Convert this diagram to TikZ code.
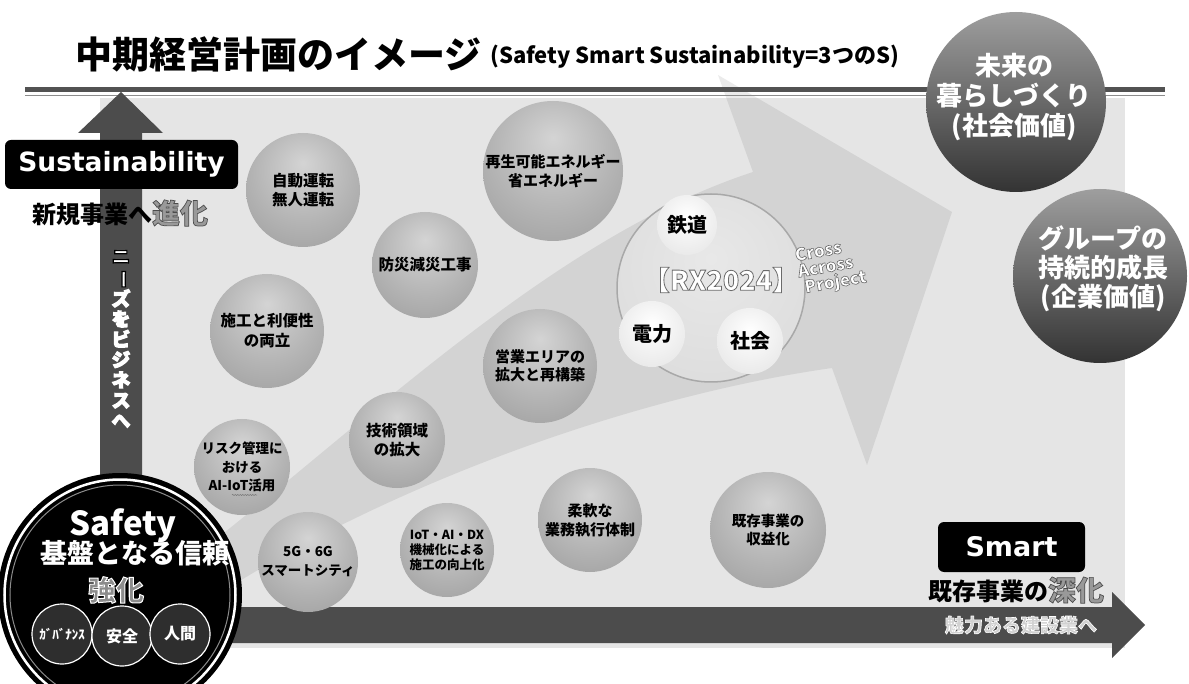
\documentclass[tikz,border=0pt]{standalone}
\usepackage{fontspec}
\setmainfont{Noto Sans CJK JP}
\newfontfamily\dejavu{DejaVu Sans}
\usetikzlibrary{decorations.pathmorphing}
\definecolor{bgray}{HTML}{E5E5E5}
\definecolor{arrowgray}{HTML}{4C4C4C}
\definecolor{sphA}{HTML}{D4D4D4}
\definecolor{sphB}{HTML}{B4B4B4}
\definecolor{sphC}{HTML}{919191}
\definecolor{sphD}{HTML}{787878}
\pgfdeclareradialshading{sph}{\pgfpoint{0bp}{12bp}}{color(0bp)=(sphA); color(22bp)=(sphB); color(48bp)=(sphC); color(62bp)=(sphD)}
\pgfdeclareradialshading{wsph}{\pgfpoint{0bp}{8bp}}{color(0bp)=(white); color(28bp)=(black!8); color(50bp)=(black!24); color(60bp)=(black!30)}
\pgfdeclareradialshading{rxsh}{\pgfpoint{0bp}{8bp}}{color(0bp)=(black!9); color(36bp)=(black!14); color(44bp)=(black!24); color(50bp)=(black!31); color(62bp)=(black!33)}
\newcommand\fs[2]{\fontsize{#1}{#2}\selectfont}
\newcommand\ol[3]{\special{pdf:literal direct #2 RG #1 w 2 Tr}#3\special{pdf:literal direct 0 Tr}}
\tikzset{
  ball/.style={circle, shading=sph, minimum size=#1, inner sep=0pt, align=center, text=black},
  wball/.style={circle, shading=wsph, minimum size=#1, inner sep=0pt, align=center, text=black},
  darkball/.style={circle, top color=black!38, bottom color=black!80, minimum size=#1, inner sep=0pt},
  blackbox/.style={rounded corners=6pt, fill=black, text=white, inner sep=0pt},
  small/.style={circle, fill=black!82, draw=white, line width=1.2pt, minimum size=#1, inner sep=0pt, text=white},
  lbl/.style={inner sep=0pt, align=center}
}
\begin{document}
\begin{tikzpicture}[x=1pt,y=-1pt]
\useasboundingbox (0,0) rectangle (1189,684);
\fill[white] (0,0) rectangle (1189,684);
\fill[bgray] (100,98) rectangle (1125,648);
% big translucent arrow
\fill[black, opacity=0.08] (205,548) .. controls (380,410) and (560,235) .. (753,172) -- (718,75) -- (952,212) -- (867,465) -- (832,368) .. controls (640,395) and (400,480) .. (225,590) -- cycle;
% double title line
\draw[line width=5pt, black!68] (25,89.5) -- (1165,89.5);
\draw[line width=1.5pt, black!45] (25,95.5) -- (1165,95.5);
% axes arrows
\fill[arrowgray] (100,607) -- (100,133) -- (78,133) -- (121,92) -- (163,133) -- (142,133) -- (142,607) -- cycle;
\fill[arrowgray] (100,607) -- (1112,607) -- (1112,592) -- (1145,625) -- (1112,658) -- (1112,643) -- (100,643) -- cycle;
% title
\node[lbl, anchor=west] (title) at (75,54) {\bfseries\fs{37}{37}中期経営計画のイメージ};
\node[lbl, anchor=west] (subtitle) at (490,57) {\bfseries\fs{22}{22}(Safety Smart Sustainability=3つのS)};
% Sustainability
\node[blackbox, minimum width=233pt, minimum height=49pt] (sus) at (121.5,164.5) {\dejavu\bfseries\fs{26.5}{26.5}Sustainability};
\node[lbl] (shinka) at (120,213) {\bfseries\fs{24}{24}新規事業へ{\fs{28}{28}\color{black!40}\ol{0.7}{0.3 0.3 0.3}{進化}}};
\node[lbl, text=white, font=\bfseries\fs{18.5}{20.3}] (needs) at (121,339) {\ol{1.2}{0 0 0}{ニ\\\rotatebox[origin=c]{-90}{ー}\\ズ\\を\\ビ\\ジ\\ネ\\ス\\へ}};
% spheres
\node[ball=114pt, font=\bfseries\fs{15.5}{19}] (b1) at (303,190) {自動運転\\無人運転};
\node[ball=140pt, font=\bfseries\fs{15}{19}] (b2) at (553,171) {再生可能エネルギー\\省エネルギー};
\node[ball=106pt, font=\bfseries\fs{15.5}{19}] (b3) at (425,265) {防災減災工事};
\node[ball=114pt, font=\bfseries\fs{15.5}{20}] (b4) at (267,331) {施工と利便性\\の両立};
\node[ball=114pt, font=\bfseries\fs{15}{18.5}] (b5) at (540,366) {営業エリアの\\拡大と再構築};
\node[ball=96pt, font=\bfseries\fs{15.5}{18.5}] (b6) at (397,440) {技術領域\\の拡大};
\node[ball=96pt, font=\bfseries\fs{13.5}{18.5}] (b7) at (242,467) {リスク管理に\\おける\\AI-IoT活用};
\draw[black!55, line width=0.5pt, decorate, decoration={snake, amplitude=0.6pt, segment length=2.5pt}] (232,495) -- (257,495);
\node[ball=100pt, font=\bfseries\fs{13.5}{19}] (b8) at (308,562) {5G・6G\\スマートシティ};
\node[ball=94pt, font=\bfseries\fs{12.5}{15}] (b9) at (447,550) {IoT・AI・DX\\機械化による\\施工の向上化};
\node[ball=104pt, font=\bfseries\fs{15}{19}] (b10) at (590,520) {柔軟な\\業務執行体制};
\node[ball=116pt, font=\bfseries\fs{14.5}{18.5}] (b11) at (768,530) {既存事業の\\収益化};
% RX2024 group
\node[circle, shading=rxsh, draw=black!34, line width=1.5pt, minimum size=188pt] (rx) at (711,288) {};
\node[wball=60pt, font=\bfseries\fs{20}{20}] (tetsudo) at (687,225) {鉄道};
\node[wball=66pt, font=\bfseries\fs{20}{20}] (denryoku) at (652,334) {電力};
\node[wball=66pt, font=\bfseries\fs{20}{20}] (shakai) at (750,341) {社会};
\node[lbl, text=white] (rxt) at (721,280) {\bfseries\fs{27}{27}\ol{0.8}{0.42 0.42 0.42}{【RX2024】}};
\node[lbl, anchor=west, align=left, rotate=10, text=white, font=\bfseries\fs{17}{16.5}] (cap) at (798,273) {\ol{0.6}{0.42 0.42 0.42}{Cross\\Across\\\ Project}};
% value circles
\node[darkball=180pt] (mirai) at (1016,102) {};
\node[lbl, text=white, font=\bfseries\fs{26}{30}] (miraitext) at (1014,97) {未来の\\暮らしづくり\\(社会価値)};
\node[darkball=174pt] (group) at (1100,276) {};
\node[lbl, text=white, font=\bfseries\fs{26}{29}] (grouptext) at (1103,269) {グループの\\持続的成長\\(企業価値)};
% Smart
\node[blackbox, minimum width=147pt, minimum height=50pt] (smart) at (1011.5,547) {\dejavu\bfseries\fs{27}{27}Smart};
\node[lbl] (shinka2) at (1016,590) {\bfseries\fs{24}{24}既存事業の{\fs{28}{28}\color{black!40}\ol{0.7}{0.3 0.3 0.3}{深化}}};
\node[lbl, text=black!18] (miryoku) at (1021,625) {\bfseries\fs{19}{19}\ol{0.6}{1 1 1}{魅力ある建設業へ}};
% Safety circle
\fill[black] (120,595) circle (122);
\draw[white, line width=2.5pt] (120,595) circle (115.5);
\draw[black!45, line width=1pt] (120,595) circle (110);
\node[circle, fill=black, minimum size=216pt, inner sep=0pt] (safety) at (120,595) {};
\node[lbl, text=white] (safetyt) at (123,526) {\bfseries\fs{33}{33}Safety};
\node[lbl, text=white] (kiban) at (135,553) {\bfseries\fs{27}{27}基盤となる信頼};
\node[lbl, text=black!45] (kyoka) at (116,590) {\bfseries\fs{28}{28}\ol{1}{1 1 1}{強化}};
\node[small=60pt] (gov) at (62,634) {\bfseries\fs{13}{13}ｶﾞﾊﾞﾅﾝｽ};
\node[small=60pt] (anzen) at (122,636) {\bfseries\fs{16}{16}安全};
\node[small=60pt] (ningen) at (180,634) {\bfseries\fs{16}{16}人間};
\end{tikzpicture}
\end{document}
